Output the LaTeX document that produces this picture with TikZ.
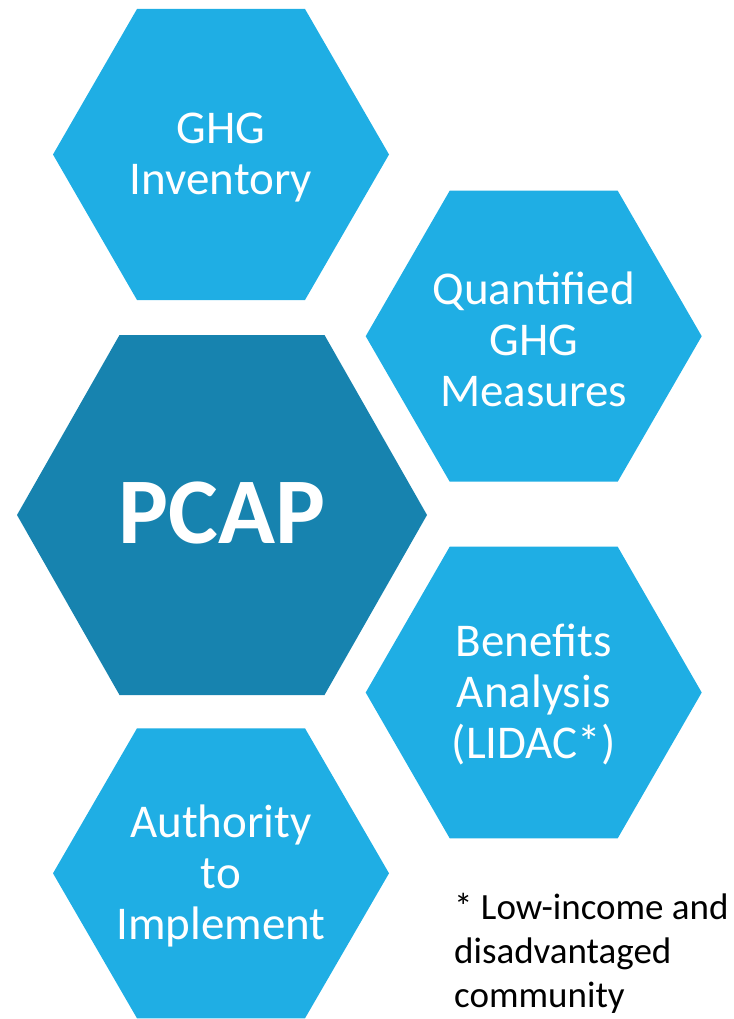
\documentclass[tikz,border=0pt]{standalone}
\usepackage{fontspec}
\setmainfont{Carlito}
\definecolor{hexlight}{RGB}{31,174,228}
\definecolor{hexdark}{RGB}{23,131,175}
\newcommand\hexshape[5]{% cx cy hw hh colour
  \fill[#5] ({#1-#3},#2) -- ({#1-#3/2},{#2-#4}) -- ({#1+#3/2},{#2-#4})
    -- ({#1+#3},#2) -- ({#1+#3/2},{#2+#4}) -- ({#1-#3/2},{#2+#4}) -- cycle;}
\tikzset{
  hexlabel/.style={text=white, align=center, inner sep=0pt,
    font=\fontsize{47}{51}\selectfont},
  biglabel/.style={text=white, align=center, inner sep=0pt,
    font=\fontsize{94}{100}\selectfont\bfseries},
  footnote/.style={text=black, align=left, inner sep=0pt,
    font=\fontsize{37}{44}\selectfont}
}
\begin{document}
\begin{tikzpicture}[x=1pt,y=-1pt]
\useasboundingbox (0,0) rectangle (733,1019);
\hexshape{221}{154.5}{168}{145.5}{hexlight}
\hexshape{533.7}{336.2}{168}{145.5}{hexlight}
\hexshape{222}{515}{205}{180}{hexdark}
\hexshape{533.7}{692.5}{168}{145.8}{hexlight}
\hexshape{221}{873.3}{168}{145}{hexlight}
\node[hexlabel] (ghg) at (221,158) {GHG\\Inventory};
\node[hexlabel] (quant) at (533.7,339) {Quantified\\GHG\\Measures};
\node[biglabel] (pcap) at (222,513) {PCAP};
\node[hexlabel] (benef) at (533.7,695) {Benefits\\Analysis\\(LIDAC*)};
\node[hexlabel] (auth) at (221,876) {Authority\\to\\Implement};
\node[footnote, anchor=base west] (note) at (454,1007) {* Low-income and\\disadvantaged\\community};
\end{tikzpicture}
\end{document}
